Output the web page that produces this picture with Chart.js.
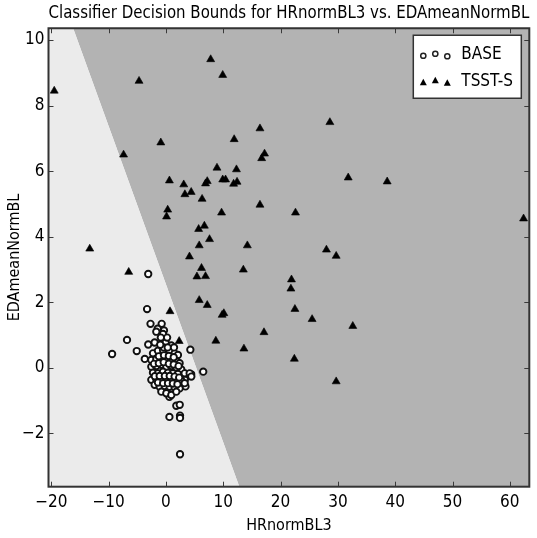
<!DOCTYPE html>
<html>
<head>
<meta charset="utf-8">
<script src="https://cdn.jsdelivr.net/npm/chart.js@4"></script>
<style>
  html, body { margin: 0; padding: 0; background: #fff; }
  #wrap { width: 537px; height: 538px; position: relative; }
</style>
</head>
<body>
<div id="wrap"><canvas id="c"></canvas></div>
<script>
// axis limits and ticks
const xMin = -20.5, xMax = 63.4;
const yMin = -3.63, yMax = 10.36;
const xTicks = [-20, -10, 0, 10, 20, 30, 40, 50, 60];
const yTicks = [-2, 0, 2, 4, 6, 8, 10];

// decision boundary: where it crosses the top and bottom edges
const boundTop = { x: -16.2, y: yMax };
const boundBottom = { x: 12.8, y: yMin };

// BASE (circles)
const baseX = [-3.1, -3.3, -2.7, -0.75, -1.45, -0.35, -6.8, -9.4, -5.1, -3.7, -3.1, 4.25, 6.5, 4.4, 3.3, 3.3, 3.4, 0.6, 1.8, 2.4, 0.6, 2.45, 2.45, 2.45,
  -1.98, -1.69, -0.52, -0.06, 0.93,
  -2.27, -1.40, -0.52, 0.64, 1.51, 2.09,
  -2.56, -1.69, -0.81, 0.06, 0.93, 1.80, 2.38,
  -2.56, -1.69, -0.81, 0.06, 0.93, 1.80, 2.67,
  -2.27, -1.40, -0.52, 0.35, 1.22, 2.09, 3.26, 4.13,
  -2.56, -1.69, -0.81, 0.06, 0.93, 1.80, 2.67, 4.42,
  -1.98, -1.10, -0.23, 0.64, 1.51, 2.38, 3.26,
  -0.81, 0.06, 0.93, 1.80,
  -1.25, -0.35, 0.5, 1.35, -2.1, -1.25, -0.4, 0.5, 1.35, 2.2, -1.95, -1.1, -0.2, 0.65, 1.5, 2.3, -1.4, -0.5, 0.35, 1.2, 2.0, -0.4, 0.3, -1.0, -0.9, 0.2, 1.4];
const baseY = [2.86, 1.79, 1.34, 1.34, 1.19, 1.14, 0.85, 0.42, 0.51, 0.27, 0.71, 0.55, -0.12, -0.20, -0.18, -0.37, -0.57, -0.89, -1.16, -1.13, -1.50, -1.46, -1.53, -2.64,
  0.77, 1.10, 1.03, 0.77, 0.68,
  0.44, 0.52, 0.54, 0.49, 0.44, 0.39,
  0.24, 0.26, 0.29, 0.24, 0.26, 0.19, 0.14,
  0.03, 0.05, 0.09, 0.03, 0.05, 0.01, -0.05,
  -0.15, -0.17, -0.12, -0.15, -0.17, -0.19, -0.17, -0.17,
  -0.37, -0.35, -0.37, -0.32, -0.37, -0.35, -0.39, -0.27,
  -0.52, -0.58, -0.56, -0.58, -0.60, -0.63, -0.47,
  -0.73, -0.78, -0.83, -0.73,
  0.35, 0.38, 0.36, 0.32, 0.12, 0.14, 0.17, 0.12, 0.10, 0.05, -0.26, -0.25, -0.25, -0.25, -0.27, -0.30, -0.45, -0.47, -0.47, -0.48, -0.50, 0.62, 0.62, 0.70, 0.92, 0.92, 0.62];

// TSST-S (triangles)
const tsstX = [-19.5, -4.7, 7.8, 9.9, -7.4, -0.9, 16.4, 11.9, 17.2, 16.7, 8.9, 12.3, 0.6, 3.1, 3.3, 4.4, 6.9, 7.2, 9.9, 10.4, 11.8, 12.4, 6.3, 16.4, 0.3, 0.1, 9.7,
  28.6, 31.8, 38.6, 22.6, 62.4, 5.7, 6.7, 7.6, 5.8, 14.2, 28.0, 29.7, 4.1, 6.2, 5.4, 6.9, 13.5, 21.9, 21.8, 5.8, 7.2, 22.5, 25.5, 32.6,
  9.8, 10.1, 0.7, 17.1, 8.7, 2.3, 13.6, 22.4, 29.7, -13.3, -6.5];
const tsstY = [8.45, 8.75, 9.41, 8.93, 6.50, 6.87, 7.30, 6.97, 6.53, 6.39, 6.10, 6.05, 5.71, 5.59, 5.29, 5.36, 5.62, 5.69, 5.74, 5.74, 5.61, 5.67, 5.15, 4.97, 4.82, 4.61, 4.73,
  7.49, 5.80, 5.68, 4.73, 4.55, 4.23, 4.33, 3.92, 3.73, 3.73, 3.60, 3.41, 3.39, 3.04, 2.78, 2.79, 2.99, 2.69, 2.41, 2.06, 1.91, 1.79, 1.48, 1.27,
  1.61, 1.66, 1.72, 1.08, 0.82, 0.81, 0.58, 0.27, -0.42, 3.63, 2.92];

const FONT = "'DejaVu Sans Condensed', 'DejaVu Sans', sans-serif";
const LIGHT = "#ebebeb", DARK = "#b3b3b3";

const zip = (xs, ys) => xs.map((x, i) => ({ x: x, y: ys[i] }));
const minus = v => String(v).replace("-", "\u2212");

// inward ticks, frame and legend in matplotlib style
const framePlugin = {
  id: "frame",
  afterDatasetsDraw(chart) {
    const { ctx, chartArea: a, scales: { x, y } } = chart;
    ctx.save();
    ctx.strokeStyle = "#3a3a3a";
    ctx.lineWidth = 1;
    ctx.beginPath();
    for (const t of xTicks) {
      const px = Math.round(x.getPixelForValue(t)) + 0.5;
      ctx.moveTo(px, a.bottom); ctx.lineTo(px, a.bottom - 5);
      ctx.moveTo(px, a.top); ctx.lineTo(px, a.top + 5);
    }
    for (const t of yTicks) {
      const py = Math.round(y.getPixelForValue(t)) + 0.5;
      ctx.moveTo(a.left, py); ctx.lineTo(a.left + 5, py);
      ctx.moveTo(a.right, py); ctx.lineTo(a.right - 5, py);
    }
    ctx.stroke();
    ctx.lineWidth = 2;
    ctx.strokeStyle = "#333";
    ctx.strokeRect(a.left, a.top, a.right - a.left, a.bottom - a.top);
    ctx.restore();
  },
  afterDraw(chart) {
    const { ctx, chartArea: a } = chart;
    const bx = a.right - 116, by = a.top + 7, bw = 108, bh = 63;
    ctx.save();
    ctx.fillStyle = "#fff";
    ctx.fillRect(bx, by, bw, bh);
    ctx.strokeStyle = "#333";
    ctx.lineWidth = 1.5;
    ctx.strokeRect(bx, by, bw, bh);
    const offs = [1.5, -0.5, 2];
    const rows = [
      { ds: chart.data.datasets[0], y: by + 19 },
      { ds: chart.data.datasets[1], y: by + 46 }
    ];
    for (const r of rows) {
      for (let i = 0; i < 3; i++) {
        const cx = bx + 10 + i * 12, cy = r.y + offs[i];
        ctx.beginPath();
        if (r.ds.pointStyle === "triangle") {
          ctx.fillStyle = "#000";
          ctx.moveTo(cx, cy - 4); ctx.lineTo(cx + 3.5, cy + 2.5); ctx.lineTo(cx - 3.5, cy + 2.5);
          ctx.closePath(); ctx.fill();
        } else {
          ctx.fillStyle = "#fff"; ctx.strokeStyle = "#222"; ctx.lineWidth = 1.5;
          ctx.arc(cx, cy, 2.6, 0, Math.PI * 2); ctx.fill(); ctx.stroke();
        }
      }
      ctx.fillStyle = "#000";
      ctx.font = "17px " + FONT;
      ctx.textBaseline = "middle";
      ctx.fillText(r.ds.label, bx + 48, r.y);
    }
    ctx.restore();
  }
};

new Chart(document.getElementById("c"), {
  type: "scatter",
  data: {
    datasets: [
      {
        label: "BASE",
        data: zip(baseX, baseY),
        pointStyle: "circle",
        pointRadius: 3.2,
        pointBorderWidth: 1.9,
        pointBorderColor: "#111",
        pointBackgroundColor: "#ffffff",
        order: 1
      },
      {
        label: "TSST-S",
        data: zip(tsstX, tsstY),
        pointStyle: "triangle",
        pointRadius: 4.6,
        pointBorderWidth: 0.6,
        pointBorderColor: "#000",
        pointBackgroundColor: "#000",
        order: 0
      },
      {
        label: "bound-light",
        data: [{ x: xMin, y: yMax }, boundTop, boundBottom],
        showLine: true,
        borderWidth: 0,
        pointRadius: 0,
        backgroundColor: LIGHT,
        fill: "start",
        order: 10
      },
      {
        label: "bound-dark",
        data: [boundTop, boundBottom, { x: xMax, y: yMin }],
        showLine: true,
        borderWidth: 0,
        pointRadius: 0,
        backgroundColor: DARK,
        fill: "end",
        order: 11
      }
    ]
  },
  options: {
    responsive: true,
    maintainAspectRatio: false,
    animation: false,
    layout: { padding: { left: 0, right: 7.7, top: 0, bottom: 0 } },
    plugins: {
      legend: { display: false },
      tooltip: { enabled: false },
      title: {
        display: true,
        fullSize: false,
        text: "Classifier Decision Bounds for HRnormBL3 vs. EDAmeanNormBL",
        color: "#000",
        font: { family: FONT, size: 17, weight: "normal", lineHeight: 1.15 },
        padding: { top: 4, bottom: 4.7 }
      }
    },
    scales: {
      x: {
        type: "linear",
        min: xMin, max: xMax,
        afterFit: s => { s.height = 51.3; },
        afterBuildTicks: s => { s.ticks = xTicks.map(v => ({ value: v })); },
        grid: { display: false, drawTicks: false },
        border: { display: false },
        ticks: { color: "#000", padding: 6, font: { family: FONT, size: 17 }, callback: v => minus(v) },
        title: { display: true, text: "HRnormBL3", color: "#000", font: { family: FONT, size: 16 }, padding: { top: 0, bottom: 3 } }
      },
      y: {
        type: "linear",
        min: yMin, max: yMax,
        afterFit: s => { s.width = 48.5; },
        afterBuildTicks: s => { s.ticks = yTicks.map(v => ({ value: v })); },
        grid: { display: false, drawTicks: false },
        border: { display: false },
        ticks: { color: "#000", padding: 4, font: { family: FONT, size: 17 }, callback: v => minus(v) },
        title: { display: true, text: "EDAmeanNormBL", color: "#000", font: { family: FONT, size: 16 }, padding: { top: 5, bottom: 0 } }
      }
    }
  },
  plugins: [framePlugin]
});
</script>
</body>
</html>
